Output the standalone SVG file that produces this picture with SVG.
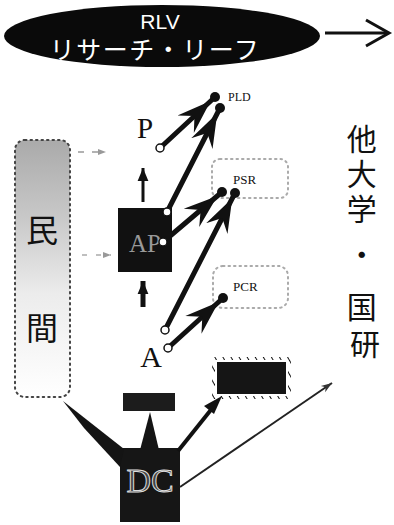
<svg xmlns="http://www.w3.org/2000/svg" width="394" height="525" viewBox="0 0 394 525">
<style>
.serif{font-family:"Liberation Serif","DejaVu Serif",serif;fill:#111}
.jp{font-family:"Noto Sans CJK JP","Noto Sans",sans-serif;fill:#111}
.arr{stroke:#111;stroke-width:5;fill:none;stroke-linecap:round;marker-end:url(#barb)}
.start{fill:#fff;stroke:#111;stroke-width:1.5}
.dot{fill:#111}
.dotted{fill:none;stroke:#aaa;stroke-width:2;stroke-dasharray:1.5 4;stroke-linecap:round}
</style>
<defs>
<marker id="barb" markerUnits="userSpaceOnUse" markerWidth="42" markerHeight="28" viewBox="-34 -13 42 26" refX="6" refY="0" orient="auto">
<path d="M0,0 L-34,-12 L-22,0 L-34,12 Z" fill="#111"/>
</marker>
<marker id="small" markerUnits="userSpaceOnUse" markerWidth="14" markerHeight="14" viewBox="-12 -6 13 12" refX="0" refY="0" orient="auto">
<path d="M0,0 L-12,-5 L-12,5 Z" fill="#111"/>
</marker>
<marker id="thin" markerUnits="userSpaceOnUse" markerWidth="12" markerHeight="10" viewBox="-10 -4 11 8" refX="0" refY="0" orient="auto">
<path d="M0,0 L-10,-3.5 L-7,0 L-10,3.5 Z" fill="#333"/>
</marker>
<marker id="grayhead" markerUnits="userSpaceOnUse" markerWidth="10" markerHeight="8" viewBox="-8 -4 9 8" refX="0" refY="0" orient="auto">
<path d="M0,0 L-8,-3 L-8,3 Z" fill="#999"/>
</marker>
<linearGradient id="fade" x1="0" y1="0" x2="0" y2="1">
<stop offset="0" stop-color="#aaa"/>
<stop offset="0.3" stop-color="#c8c8c8"/>
<stop offset="0.6" stop-color="#ececec"/>
<stop offset="1" stop-color="#fff"/>
</linearGradient>
<pattern id="hatch" width="7" height="7" patternUnits="userSpaceOnUse" patternTransform="rotate(-30)">
<line x1="0" y1="0" x2="0" y2="7" stroke="#111" stroke-width="2"/>
</pattern>
</defs>

<g id="rlv">
<ellipse cx="162" cy="36" rx="158" ry="31" fill="#0a0a0a"/>
<text x="160" y="29" text-anchor="middle" font-family="Liberation Sans, Arial, sans-serif" font-size="21" fill="#fff">RLV</text>
<text x="155" y="59" text-anchor="middle" font-family="Noto Sans CJK JP, sans-serif" font-size="25" letter-spacing="1.5" fill="#fff">リサーチ・リーフ</text>
</g>

<g id="minkan">
<rect x="15" y="140" width="55" height="257" rx="10" fill="url(#fade)"/>
<rect x="15" y="140" width="55" height="257" rx="10" fill="none" stroke="#444" stroke-width="2" stroke-dasharray="1.5 4" stroke-linecap="round"/>
<text x="42" y="242" text-anchor="middle" class="jp" font-size="32">民</text>
<text x="42" y="340" text-anchor="middle" class="jp" font-size="32">間</text>
</g>

<g id="other-univ">
<text class="jp" font-size="30" text-anchor="middle">
<tspan x="365" y="150">他</tspan>
<tspan x="365" y="185">大</tspan>
<tspan x="365" y="220">学</tspan>
<tspan x="365" y="266">・</tspan>
<tspan x="365" y="318">国</tspan>
<tspan x="365" y="355">研</tspan>
</text>
</g>

<g id="P"><text x="145" y="138" text-anchor="middle" class="serif" font-size="29">P</text></g>
<g id="A"><text x="151" y="367" text-anchor="middle" class="serif" font-size="30">A</text></g>

<g id="AP">
<rect x="118" y="208" width="54" height="64" fill="#111"/>
<text x="145" y="252" text-anchor="middle" font-family="Liberation Serif, serif" font-size="25" fill="#999">AP</text>
</g>

<g id="PLD"><text x="228" y="101" class="serif" font-size="12">PLD</text></g>

<g id="PSR">
<rect x="212" y="159" width="76" height="39" rx="8" class="dotted"/>
<text x="233" y="184" class="serif" font-size="13">PSR</text>
</g>

<g id="PCR">
<rect x="213" y="266" width="75" height="42" rx="10" class="dotted"/>
<text x="233" y="291" class="serif" font-size="13">PCR</text>
</g>

<g id="DC">
<rect x="120" y="448" width="60" height="74" fill="#161616"/>
<text x="150" y="492" text-anchor="middle" font-family="Liberation Serif, serif" font-size="34" fill="#444" stroke="#ddd" stroke-width="1">DC</text>
</g>

<g id="small-box">
<rect x="123" y="393" width="52" height="18" fill="#1c1c1c"/>
</g>

<g id="hatched-box">
<rect x="212" y="357" width="79" height="42" fill="url(#hatch)"/>
<rect x="215" y="360" width="73" height="36" fill="#fff"/>
<rect x="217" y="362" width="69" height="32" fill="#151515"/>
</g>

<g id="connectors">
<line x1="325" y1="33" x2="388" y2="33" stroke="#111" stroke-width="3"/>
<polyline points="366,20 389,33 366,46" fill="none" stroke="#111" stroke-width="3"/>

<line x1="160" y1="148" x2="215" y2="97" class="arr"/>
<line x1="167" y1="212" x2="220" y2="108" class="arr"/>
<line x1="163" y1="242" x2="222" y2="192" class="arr"/>
<line x1="165" y1="330" x2="235" y2="193" class="arr"/>
<line x1="168" y1="348" x2="223" y2="298" class="arr"/>

<circle cx="215" cy="97" r="5" class="dot"/>
<circle cx="220" cy="108" r="5" class="dot"/>
<circle cx="222" cy="192" r="5" class="dot"/>
<circle cx="235" cy="193" r="5" class="dot"/>
<circle cx="223" cy="298" r="5" class="dot"/>
<circle cx="160" cy="148" r="4" class="start"/>
<circle cx="167" cy="212" r="4" class="start"/>
<circle cx="163" cy="242" r="4" class="start"/>
<circle cx="165" cy="330" r="4" class="start"/>
<circle cx="168" cy="348" r="4" class="start"/>

<line x1="143" y1="202" x2="143" y2="168" stroke="#111" stroke-width="3" marker-end="url(#small)"/>
<line x1="143" y1="307" x2="143" y2="281" stroke="#111" stroke-width="5" marker-end="url(#small)"/>

<line x1="78" y1="152" x2="106" y2="152" stroke="#999" stroke-width="1.5" stroke-dasharray="6 8" marker-end="url(#grayhead)"/>
<line x1="82" y1="255" x2="111" y2="255" stroke="#aaa" stroke-width="1.5" stroke-dasharray="5 9" marker-end="url(#grayhead)"/>

<polygon points="63,401 124,449 120,467 84,428" fill="#141414"/>
<polygon points="150,412 159,450 140,450" fill="#141414"/>
<line x1="178" y1="451" x2="214" y2="406" stroke="#111" stroke-width="4"/>
<path d="M222,396 L204,406 L214,414 Z" fill="#111"/>
<line x1="180" y1="487" x2="332" y2="383" stroke="#222" stroke-width="2" marker-end="url(#thin)"/>
</g>
</svg>
